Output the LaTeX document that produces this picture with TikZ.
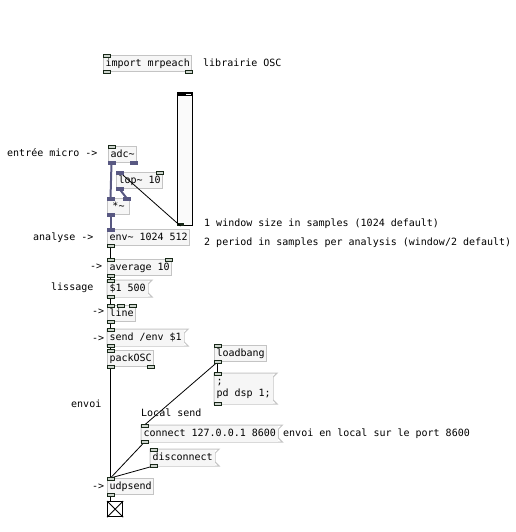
\documentclass[tikz,border=0pt]{standalone}
\usepackage{fontspec}
\setmonofont{DejaVu Sans Mono}
\usetikzlibrary{calc}

\definecolor{boxline}{RGB}{196,196,196}
\definecolor{boxfill}{RGB}{246,246,246}
\definecolor{iodark}{RGB}{24,40,24}
\definecolor{iofill}{RGB}{205,212,205}
\definecolor{sigline}{RGB}{88,88,130}

\tikzset{
  pdfont/.style={font=\ttfamily\fontsize{10}{12}\selectfont},
  box/.style={pdfont, draw=boxline, fill=boxfill, line width=1pt, inner xsep=2pt, inner ysep=0pt, minimum height=16pt, anchor=north west},
  obj/.style={box, text height=7.5pt, text depth=2pt},
  msgbox/.style={box, draw=none, append after command={\pgfextra{\draw[boxline, line width=1pt] (\tikzlastnode.north west) -- ([xshift=4pt]\tikzlastnode.north east) -- ([yshift=-4pt]\tikzlastnode.north east) -- ([yshift=4pt]\tikzlastnode.south east) -- ([xshift=4pt]\tikzlastnode.south east) -- (\tikzlastnode.south west) -- cycle;}}},
  msg/.style={msgbox, text height=7.5pt, text depth=2pt},
  cmt/.style={pdfont, inner sep=0pt, anchor=west, text height=7.5pt, text depth=2pt},
  iolet/.style={draw=iodark, fill=iofill, line width=0.8pt},
  sigiolet/.style={draw=sigline, fill=sigline, line width=0.8pt},
  ctl/.style={line width=0.8pt, draw=black},
  sig/.style={line width=2pt, draw=sigline},
}

\begin{document}
\begin{tikzpicture}[x=1pt, y=-1pt]
\useasboundingbox (0,0) rectangle (515,532);

% commentaires
\node (cosc) [cmt] at (203,64) {librairie OSC};
\node (cmic) [cmt] at (7,154) {entrée micro ->};
\node (cwin) [cmt] at (204,224) {1 window size in samples (1024 default)};
\node (cper) [cmt] at (204,243) {2 period in samples per analysis (window/2 default)};
\node (cana) [cmt] at (33,238) {analyse ->};
\node (carra) [cmt] at (90,267) {->};
\node (cliss) [cmt] at (51,288) {lissage};
\node (carrb) [cmt] at (92,312) {->};
\node (carrc) [cmt] at (92,339) {->};
\node (cenv) [cmt] at (71,405) {envoi};
\node (cloc) [cmt] at (141,414) {Local send};
\node (cport) [cmt] at (283,434) {envoi en local sur le port 8600};
\node (carrd) [cmt] at (92,487) {->};

% objets
\node (imp) [obj] at (103,55) {import mrpeach};
\node (adc) [obj] at (108,146) {adc\textasciitilde};
\node (lop) [obj] at (116,172) {lop\textasciitilde{} 10};
\node (mul) [obj, minimum width=22pt] at (107,198) {*\textasciitilde};
\node (env) [obj] at (107,229) {env\textasciitilde{} 1024 512};
\node (avg) [obj] at (107,259) {average 10};
\node (dol) [msg] at (107,280) {\$1 500};
\node (ln) [obj] at (107,305) {line};
\node (snd) [msg] at (107,329) {send /env \$1};
\node (pck) [obj] at (107,350) {packOSC};
\node (lb) [obj] at (214,345) {loadbang};
\node (dsp) [msgbox, align=left, minimum height=30pt] at (214,373) {;\\pd dsp 1;};
\node (con) [msg] at (141,425) {connect 127.0.0.1 8600};
\node (dis) [msg] at (150,449) {disconnect};
\node (udp) [obj] at (107,478) {udpsend};

% slider et toggle
\node (sld) [draw=black, line width=1pt, fill=white!98!black, minimum width=15pt, minimum height=133pt, inner sep=0pt, anchor=north west] at (177,92) {};
\fill[black] (sld.north west) rectangle ([yshift=-4.5pt]sld.north east);
\fill[white] ([xshift=-7pt,yshift=-2pt]sld.north east) rectangle ([xshift=-2pt,yshift=-3pt]sld.north east);
\fill[iodark] ([yshift=3pt]sld.south west) rectangle ([xshift=7pt]sld.south west);
\node (tgl) [draw=black, line width=1.2pt, minimum size=15pt, inner sep=0pt, anchor=north west] at (107,501) {};
\draw[line width=1pt] (tgl.north west) -- (tgl.south east) (tgl.north east) -- (tgl.south west);

% connexions signal
\draw[sig] ([xshift=3.5pt]adc.south west) -- ([xshift=3.5pt]mul.north west);
\draw[sig] ([xshift=3.5pt]lop.south west) -- ([xshift=-3.5pt]mul.north east);
\draw[sig] ([xshift=3.5pt]mul.south west) -- ([xshift=3.5pt]env.north west);

% connexions controle
\draw[ctl] ([xshift=3.5pt]sld.south west) -- ([xshift=3.5pt]lop.north west);
\draw[ctl] ([xshift=3.5pt]env.south west) -- ([xshift=3.5pt]avg.north west);
\draw[ctl] ([xshift=3.5pt]avg.south west) -- ([xshift=3.5pt]dol.north west);
\draw[ctl] ([xshift=3.5pt]dol.south west) -- ([xshift=3.5pt]ln.north west);
\draw[ctl] ([xshift=3.5pt]ln.south west) -- ([xshift=3.5pt]snd.north west);
\draw[ctl] ([xshift=3.5pt]snd.south west) -- ([xshift=3.5pt]pck.north west);
\draw[ctl] ([xshift=3.5pt]pck.south west) -- ([xshift=3.5pt]udp.north west);
\draw[ctl] ([xshift=3.5pt]lb.south west) -- ([xshift=3.5pt]dsp.north west);
\draw[ctl] ([xshift=3.5pt]lb.south west) -- ([xshift=3.5pt]con.north west);
\draw[ctl] ([xshift=3.5pt]con.south west) -- ([xshift=3.5pt]udp.north west);
\draw[ctl] ([xshift=3.5pt]dis.south west) -- ([xshift=3.5pt]udp.north west);
\draw[ctl] ([xshift=3.5pt]udp.south west) -- ([xshift=3.5pt]tgl.north west);

% inlets et outlets
\foreach \p/\dx in {imp.north west/0, adc.north west/0, lop.north east/-7, avg.north west/0, avg.north east/-7,
  dol.north west/0, ln.north west/0, ln.north west/10.5, ln.north east/-7, snd.north west/0, pck.north west/0,
  lb.north west/0, dsp.north west/0, con.north west/0, dis.north west/0, udp.north west/0}
  \draw[iolet] ($(\p)+(\dx,-1)$) rectangle ++(7,3);
\foreach \p/\dx in {imp.south west/0, imp.south east/-7, env.south west/0, avg.south west/0, dol.south west/0,
  ln.south west/0, snd.south west/0, pck.south west/0, pck.south east/-7, lb.south west/0, dsp.south west/0,
  con.south west/0, dis.south west/0, udp.south west/0}
  \draw[iolet] ($(\p)+(\dx,-2)$) rectangle ++(7,3);
\foreach \p/\dx in {lop.north west/0, mul.north west/0, mul.north east/-7, env.north west/0}
  \draw[sigiolet] ($(\p)+(\dx,-1)$) rectangle ++(7,3);
\foreach \p/\dx in {adc.south west/0, adc.south east/-7, lop.south west/0, mul.south west/0}
  \draw[sigiolet] ($(\p)+(\dx,-2)$) rectangle ++(7,3);
\end{tikzpicture}
\end{document}
